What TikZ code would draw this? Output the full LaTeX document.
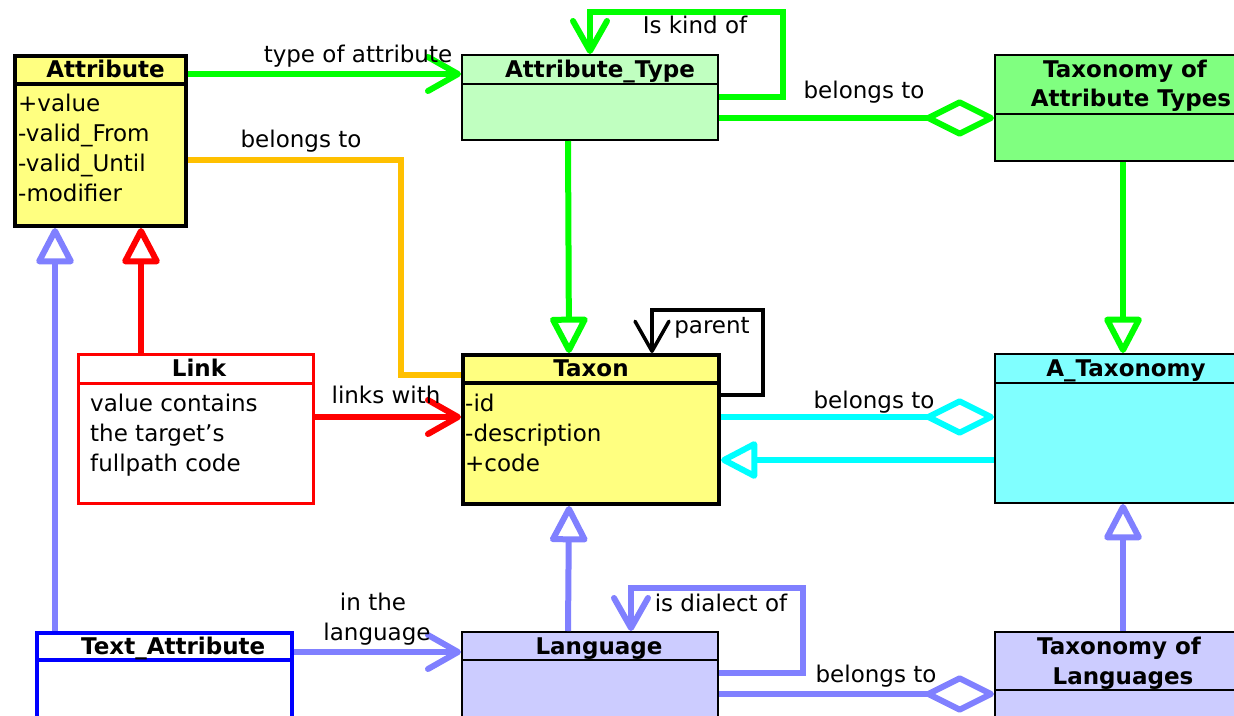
\documentclass[tikz,border=0pt]{standalone}
\usepackage{fontspec}
\setmainfont{DejaVu Sans}
\usetikzlibrary{arrows.meta,calc,positioning}

\definecolor{attrfill}{HTML}{FFFF80}
\definecolor{typefill}{HTML}{C0FFC0}
\definecolor{taxtypefill}{HTML}{80FF80}
\definecolor{ataxfill}{HTML}{80FFFF}
\definecolor{langfill}{HTML}{CCCCFF}
\definecolor{lgreen}{HTML}{00FF00}
\definecolor{lorange}{HTML}{FFC000}
\definecolor{lred}{HTML}{FF0000}
\definecolor{lblue}{HTML}{8080FF}
\definecolor{lcyan}{HTML}{00FFFF}
\definecolor{dblue}{HTML}{0000FF}

\tikzset{
  every node/.style={font=\fontsize{23}{30}\selectfont, inner sep=0pt},
  classbox/.style={draw, rectangle, line width=2pt, anchor=north west, minimum width=256pt},
  thickbox/.style={classbox, line width=4pt},
  classtitle/.style={font=\fontsize{23}{30}\selectfont\bfseries, anchor=base},
  attrline/.style={anchor=base west},
  lbl/.style={anchor=base},
  assoc/.style={line width=6pt},
  navig/.style={-{Straight Barb[length=30pt,width=34pt,round]}},
  inherit/.style={-{Triangle[open,length=40pt,width=40pt,round]}},
  aggreg/.style={-{Diamond[open,length=76pt,width=38pt,round]}},
}

\begin{document}
\begin{tikzpicture}[x=1pt,y=-1pt]
            \useasboundingbox (0,0) rectangle (1234,715);
            \clip (0,0) rectangle (1234,715);
            % classes
            \node[thickbox, fill=attrfill, minimum width=171pt, minimum height=170pt] (attr) at (13,54) {};
            \node[classbox, fill=typefill, minimum height=85pt] (atype) at (461,54) {};
            \node[classbox, fill=taxtypefill, minimum height=106pt] (taxtype) at (994,54) {};
            \node[thickbox, fill=attrfill, minimum height=149pt] (taxon) at (461,353) {};
            \node[classbox, fill=ataxfill, minimum height=149pt] (atax) at (994,353) {};
            \node[classbox, draw=lred, line width=3pt, fill=white, minimum width=235pt, minimum height=149pt] (link) at (77,353) {};
            \node[classbox, draw=dblue, line width=3.5pt, fill=white, minimum width=255pt, minimum height=130pt] (textattr) at (35,631) {};
            \node[classbox, fill=langfill, minimum height=130pt] (lang) at (461,631) {};
            \node[classbox, fill=langfill, minimum height=130pt] (taxlang) at (994,631) {};
            % header lines
            \foreach \b in {attr,taxon}
            \draw[line width=4pt] ($(\b.north west)+(0,30)$) -- ($(\b.north east)+(0,30)$);
            \foreach \b/\h in {atype/30,taxtype/60,atax/30,lang/29,taxlang/59}
            \draw[line width=2pt] ($(\b.north west)+(0,\h)$) -- ($(\b.north east)+(0,\h)$);
            \draw[lred, line width=3pt] ($(link.north west)+(0,30)$) -- ($(link.north east)+(0,30)$);
            \draw[dblue, line width=3.5pt] ($(textattr.north west)+(0,29)$) -- ($(textattr.north east)+(0,29)$);
            % titles
            \node[classtitle] (attrt) at ($(attr.north)+(5,23)$) {Attribute};
            \node[classtitle] (atypet) at ($(atype.north)+(10,23)$) {Attribute\_Type};
            \node[classtitle] (taxtypet1) at ($(taxtype.north)+(2,23)$) {Taxonomy of};
            \node[classtitle] (taxtypet2) at ($(taxtype.north)+(8,52)$) {Attribute Types};
            \node[classtitle] (taxont) at ($(taxon.north)+(0,23)$) {Taxon};
            \node[classtitle] (ataxt) at ($(atax.north)+(3,23)$) {A\_Taxonomy};
            \node[classtitle] (linkt) at ($(link.north)+(3,23)$) {Link};
            \node[classtitle] (textattrt) at ($(textattr.north)+(9,23)$) {Text\_Attribute};
            \node[classtitle] (langt) at ($(lang.north)+(9,23)$) {Language};
            \node[classtitle] (taxlangt1) at ($(taxlang.north)+(-4,23)$) {Taxonomy of};
            \node[classtitle] (taxlangt2) at ($(taxlang.north)+(0,53)$) {Languages};
            % fields
            \foreach \fld [count=\i] in {+value,-valid\_From,-valid\_Until,-modifier}
            \node[attrline] (attrf\i) at ($(attr.north west)+(5,27+30*\i)$) {\fld};
            \foreach \fld [count=\i] in {-id,-description,+code}
            \node[attrline] (taxonf\i) at ($(taxon.north west)+(4,28+30*\i)$) {\fld};
            \foreach \fld [count=\i] in {value contains,the target's,fullpath code}
            \node[attrline] (linkf\i) at ($(link.north west)+(13,28+30*\i)$) {\fld};
            % connectors
            \draw[assoc, lgreen, navig] ($(attr.north east)+(0,20)$) -- ($(atype.north west)+(0,20)$);
            \draw[assoc, lorange] ($(attr.north east)+(0,106)$) -- ++(213,0) |- ($(taxon.north west)+(0,22)$);
            \draw[assoc, lgreen, navig] ($(atype.north east)+(0,43)$) -- ++(64,0) -- ++(0,-85) -| ($(atype.north west)+(129,0)$);
            \draw[assoc, lgreen, aggreg] ($(atype.north east)+(0,64)$) -- ($(taxtype.north west)+(0,64)$);
            \draw[assoc, lgreen, inherit] ($(atype.south)+(-22,0)$) -- ($(taxon.north)+(-22,0)$);
            \draw[assoc, lgreen, inherit] (taxtype) -- (atax);
            \draw[line width=3.5pt, navig] ($(taxon.north east)+(0,42)$) -- ++(42,0) -- ++(0,-85) -| ($(taxon.north west)+(191,0)$);
            \draw[assoc, lred, inherit] ($(link.north west)+(64,0)$) -- ($(attr.south west)+(128,0)$);
            \draw[assoc, lred, navig] ($(link.north east)+(0,64)$) -- ($(taxon.north west)+(0,64)$);
            \draw[assoc, lblue, inherit] ($(textattr.north west)+(20,0)$) -- ($(attr.south west)+(42,0)$);
            \draw[assoc, lblue, navig] ($(textattr.north east)+(0,21)$) -- ($(lang.north west)+(0,21)$);
            \draw[assoc, lcyan, aggreg] ($(taxon.north east)+(0,64)$) -- ($(atax.north west)+(0,64)$);
            \draw[assoc, lcyan, inherit] ($(atax.north west)+(0,107)$) -- ($(taxon.north east)+(0,107)$);
            \draw[assoc, lblue, inherit] ($(lang.north)+(-22,0)$) -- ($(taxon.south)+(-22,0)$);
            \draw[assoc, lblue, navig] ($(lang.north east)+(0,42)$) -- ++(84,0) -- ++(0,-85) -| ($(lang.north west)+(170,0)$);
            \draw[assoc, lblue, aggreg] ($(lang.north east)+(0,63)$) -- ($(taxlang.north west)+(0,63)$);
            \draw[assoc, lblue, inherit] (taxlang) -- (atax);
            % labels
            \node[lbl] (typeof) at (358,62) {type of attribute};
            \node[lbl] (attrbel) at (301,147) {belongs to};
            \node[lbl] (kindof) at (695,33) {Is kind of};
            \node[lbl] (typebel) at (864,98) {belongs to};
            \node[lbl] (parent) at (712,333) {parent};
            \node[lbl] (linkswith) at (386,403) {links with};
            \node[lbl] (taxbel) at (874,408) {belongs to};
            \node[lbl] (inthe) at (373,610) {in the};
            \node[lbl] (inlang) at (377,640) {language};
            \node[lbl] (dialect) at (721,611) {is dialect of};
            \node[lbl] (langbel) at (876,682) {belongs to};
        \end{tikzpicture}
\end{document}
